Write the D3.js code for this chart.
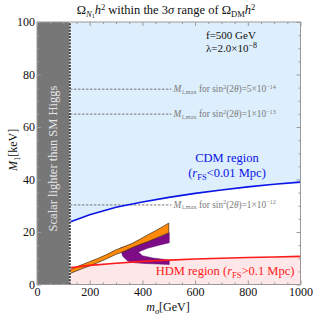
<!DOCTYPE html>
<html>
<head>
<meta charset="utf-8">
<script src="https://cdn.jsdelivr.net/npm/d3@7"></script>
<style>
  body { margin: 0; background: #fff; }
  svg, svg text, svg g { font-family: "Liberation Serif", "Times New Roman", Times, serif !important; }
</style>
</head>
<body>
<svg id="chart" width="313" height="316"></svg>
<script>
    //////////// DATA ////////////

    var mHiggs = 125;

    // boundaries of the CDM / HDM regions
    var boundM = [125, 200, 300, 400, 500, 600, 700, 800, 900, 1000];
    var cdmBound = [23.8, 26.6, 29.4, 31.4, 33.2, 34.7, 36.0, 37.2, 38.2, 39.0];
    var hdmBound = [6.4, 7.3, 8.1, 8.8, 9.3, 9.7, 10.0, 10.3, 10.5, 10.7];

    // orange band (3 sigma range), lower / upper edges
    var bandM = [125, 160, 200, 230, 260, 300, 330, 360, 390, 420, 450, 480, 500];
    var bandLow = [4.2, 5.6, 7.1, 8.3, 9.6, 11.5, 12.6, 14.0, 15.2, 16.3, 17.6, 18.9, 19.7];
    var bandHigh = [5.6, 7.1, 8.7, 9.9, 11.2, 13.2, 14.4, 15.6, 17.2, 18.9, 20.5, 22.2, 23.4];

    // purple band outline
    var purpleM = [316, 350, 390, 430, 470, 502, 502, 460, 420, 385, 400, 440, 480, 502, 502, 460, 410, 370, 345, 325];
    var purpleV = [13.9, 14.8, 15.8, 17.0, 18.3, 19.7, 15.9, 14.9, 13.8, 12.4, 11.0, 10.1, 9.6, 9.3, 7.6, 7.8, 8.0, 8.3, 8.9, 10.8];

    // M_1,max lines
    var mmaxValues = [74.4, 64.9, 30.3];
    var mmaxLabels = ["5\u00d710", "1\u00d710", "1\u00d710"];
    var mmaxExps = ["\u221214", "\u221213", "\u221212"];
    var mmaxEnd = 510;

    var xTicks = [0, 200, 400, 600, 800, 1000];
    var yTicks = [0, 20, 40, 60, 80, 100];

    //////////// SETUP ////////////

    var svg = d3.select("#chart");
    var margin = {left: 37, right: 12.5, top: 22, bottom: 31.5};
    var width = 313, height = 316;

    var x = d3.scaleLinear().domain([0, 1000]).range([margin.left, width - margin.right]);
    var y = d3.scaleLinear().domain([0, 100]).range([height - margin.bottom, margin.top]);

    var line = d3.line()
        .x(function (d) { return x(d[0]); })
        .y(function (d) { return y(d[1]); });

    var cdmPts = boundM.map(function (m, i) { return [m, cdmBound[i]]; });
    var hdmPts = boundM.map(function (m, i) { return [m, hdmBound[i]]; });

    //////////// REGIONS ////////////

    // light blue CDM region above the blue line
    svg.append("path")
        .attr("d", d3.area()
            .x(function (d) { return x(d[0]); })
            .y0(y(100))
            .y1(function (d) { return y(d[1]); })(cdmPts))
        .attr("fill", "#ddeefc");

    // pink HDM region below the red line
    svg.append("path")
        .attr("d", d3.area()
            .x(function (d) { return x(d[0]); })
            .y0(y(0))
            .y1(function (d) { return y(d[1]); })(hdmPts))
        .attr("fill", "#fde7e8");

    // grey excluded region
    svg.append("rect")
        .attr("x", x(0))
        .attr("y", y(100))
        .attr("width", x(mHiggs) - x(0))
        .attr("height", y(0) - y(100))
        .attr("fill", "#777777");

    svg.append("text")
        .attr("transform", "translate(" + (x(mHiggs / 2) + 4) + "," + y(48) + ") rotate(-90)")
        .attr("text-anchor", "middle")
        .attr("font-size", 12.5)
        .attr("fill", "#e6e6e6")
        .text("Scalar lighter than SM Higgs");

    // M_1,max dashed lines
    mmaxValues.forEach(function (v, i) {
        svg.append("line")
            .attr("x1", x(mHiggs)).attr("x2", x(mmaxEnd))
            .attr("y1", y(v)).attr("y2", y(v))
            .attr("stroke", "#666")
            .attr("stroke-width", 0.9)
            .attr("stroke-dasharray", "2.5,1.5");

        var t = svg.append("text")
            .attr("x", x(mmaxEnd) + 2)
            .attr("y", y(v) + 3)
            .attr("font-size", 9.3)
            .attr("fill", "#7a7a7a");
        t.append("tspan").attr("font-style", "italic").text("M");
        t.append("tspan").attr("font-size", 6.3).attr("dy", 1.5).text("1,max");
        t.append("tspan").attr("dy", -1.5).text(" for sin");
        t.append("tspan").attr("font-size", 6.3).attr("dy", -3.5).text("2");
        t.append("tspan").attr("dy", 3.5).text("(2");
        t.append("tspan").attr("font-style", "italic").text("\u03b8");
        t.append("tspan").text(")=" + mmaxLabels[i]);
        t.append("tspan").attr("font-size", 6.3).attr("dy", -3.5).text(mmaxExps[i]);
    });

    // purple band
    svg.append("path")
        .attr("d", line(purpleM.map(function (m, i) { return [m, purpleV[i]]; })) + "Z")
        .attr("fill", "#7d0c86")
        .attr("stroke", "#6a0a72")
        .attr("stroke-width", 0.5);

    // orange band
    var bandPts = bandM.map(function (m, i) { return [m, bandLow[i]]; })
        .concat(bandM.slice().reverse().map(function (m, i) {
            return [m, bandHigh[bandM.length - 1 - i]];
        }));
    svg.append("path")
        .attr("d", line(bandPts) + "Z")
        .attr("fill", "#ff8a0a")
        .attr("stroke", "#3a2a10")
        .attr("stroke-width", 0.7);

    // boundary curves
    svg.append("path")
        .attr("d", line(cdmPts))
        .attr("fill", "none")
        .attr("stroke", "#0a14e6")
        .attr("stroke-width", 1.6);

    svg.append("path")
        .attr("d", line(hdmPts))
        .attr("fill", "none")
        .attr("stroke", "#ff1a1a")
        .attr("stroke-width", 1.6);

    // Higgs mass line
    svg.append("line")
        .attr("x1", x(mHiggs)).attr("x2", x(mHiggs))
        .attr("y1", y(0)).attr("y2", y(100))
        .attr("stroke", "#fff")
        .attr("stroke-width", 1.5);
    svg.append("line")
        .attr("x1", x(mHiggs)).attr("x2", x(mHiggs))
        .attr("y1", y(0)).attr("y2", y(100))
        .attr("stroke", "#111")
        .attr("stroke-width", 1.5)
        .attr("stroke-dasharray", "2,1.2");

    //////////// AXES ////////////

    var frameColor = "#9a9a9a";

    function addAxis(axis, tx, ty) {
        var g = svg.append("g")
            .attr("transform", "translate(" + tx + "," + ty + ")")
            .call(axis)
            .attr("font-size", 12);
        g.select(".domain").remove();
        g.selectAll("line").attr("stroke", frameColor);
        g.selectAll("text").attr("fill", "#111");
        return g;
    }

    // major ticks (inward) with labels
    addAxis(d3.axisBottom(x).tickValues(xTicks).tickSize(-4).tickPadding(3).tickFormat(d3.format("d")), 0, y(0));
    addAxis(d3.axisLeft(y).tickValues(yTicks).tickSize(-4).tickPadding(2).tickFormat(d3.format("d")), x(0), 0);
    addAxis(d3.axisTop(x).tickValues(xTicks).tickSize(-4).tickFormat(""), 0, y(100));
    addAxis(d3.axisRight(y).tickValues(yTicks).tickSize(-4).tickFormat(""), x(1000), 0);

    // minor ticks
    var xMinor = d3.range(0, 1001, 50).filter(function (v) { return v % 200 !== 0; });
    var yMinor = d3.range(0, 101, 5).filter(function (v) { return v % 20 !== 0; });
    addAxis(d3.axisBottom(x).tickValues(xMinor).tickSize(-2).tickFormat(""), 0, y(0));
    addAxis(d3.axisTop(x).tickValues(xMinor).tickSize(-2).tickFormat(""), 0, y(100));
    addAxis(d3.axisLeft(y).tickValues(yMinor).tickSize(-2).tickFormat(""), x(0), 0);
    addAxis(d3.axisRight(y).tickValues(yMinor).tickSize(-2).tickFormat(""), x(1000), 0);

    svg.append("rect")
        .attr("x", x(0)).attr("y", y(100))
        .attr("width", x(1000) - x(0)).attr("height", y(0) - y(100))
        .attr("fill", "none")
        .attr("stroke", frameColor)
        .attr("stroke-width", 1);

    //////////// TEXTS ////////////

    // title
    var title = svg.append("text")
        .attr("x", 166).attr("y", 14)
        .attr("text-anchor", "middle")
        .attr("font-size", 12.5)
        .attr("fill", "#111");
    title.append("tspan").text("\u03a9");
    title.append("tspan").attr("font-size", 8.5).attr("font-style", "italic").attr("dy", 2.5).text("N");
    title.append("tspan").attr("font-size", 6).attr("dy", 1).text("1");
    title.append("tspan").attr("font-style", "italic").attr("dy", -3.5).text("h");
    title.append("tspan").attr("font-size", 8.5).attr("dy", -4.5).text("2");
    title.append("tspan").attr("dy", 4.5).text(" within the 3");
    title.append("tspan").attr("font-style", "italic").text("\u03c3");
    title.append("tspan").text(" range of \u03a9");
    title.append("tspan").attr("font-size", 8.5).attr("dy", 2.5).text("DM");
    title.append("tspan").attr("font-style", "italic").attr("dy", -2.5).text("h");
    title.append("tspan").attr("font-size", 8.5).attr("dy", -4.5).text("2");

    // parameters
    svg.append("text")
        .attr("x", 206).attr("y", 39)
        .attr("font-size", 11).attr("fill", "#111")
        .text("f=500 GeV");
    var lam = svg.append("text")
        .attr("x", 206).attr("y", 52)
        .attr("font-size", 11).attr("fill", "#111");
    lam.append("tspan").text("\u03bb=2.0\u00d710");
    lam.append("tspan").attr("font-size", 8).attr("dy", -4.5).text("\u22128");

    // CDM label
    svg.append("text")
        .attr("x", 227).attr("y", 162)
        .attr("text-anchor", "middle")
        .attr("font-size", 12.5).attr("fill", "#0a14e6")
        .text("CDM region");
    var cdmLab = svg.append("text")
        .attr("x", 227).attr("y", 177)
        .attr("text-anchor", "middle")
        .attr("font-size", 12.5).attr("fill", "#0a14e6");
    cdmLab.append("tspan").text("(");
    cdmLab.append("tspan").attr("font-style", "italic").text("r");
    cdmLab.append("tspan").attr("font-size", 8.5).attr("dy", 2.5).text("FS");
    cdmLab.append("tspan").attr("dy", -2.5).text("<0.01 Mpc)");

    // HDM label
    var hdmLab = svg.append("text")
        .attr("x", 225).attr("y", 275)
        .attr("text-anchor", "middle")
        .attr("font-size", 12.5).attr("fill", "#ff1a1a");
    hdmLab.append("tspan").text("HDM region (");
    hdmLab.append("tspan").attr("font-style", "italic").text("r");
    hdmLab.append("tspan").attr("font-size", 8.5).attr("dy", 2.5).text("FS");
    hdmLab.append("tspan").attr("dy", -2.5).text(">0.1 Mpc)");

    // axis labels
    var xLab = svg.append("text")
        .attr("x", 168).attr("y", 311)
        .attr("text-anchor", "middle")
        .attr("font-size", 12).attr("fill", "#111");
    xLab.append("tspan").attr("font-style", "italic").text("m");
    xLab.append("tspan").attr("font-size", 8.5).attr("font-style", "italic").attr("dy", 2.5).text("\u03c3");
    xLab.append("tspan").attr("dy", -2.5).text("[GeV]");

    var yLab = svg.append("text")
        .attr("transform", "translate(17,150) rotate(-90)")
        .attr("text-anchor", "middle")
        .attr("font-size", 12).attr("fill", "#111");
    yLab.append("tspan").attr("font-style", "italic").text("M");
    yLab.append("tspan").attr("font-size", 8.5).attr("dy", 2.5).text("1");
    yLab.append("tspan").attr("dy", -2.5).text("[keV]");
</script>
</body>
</html>
